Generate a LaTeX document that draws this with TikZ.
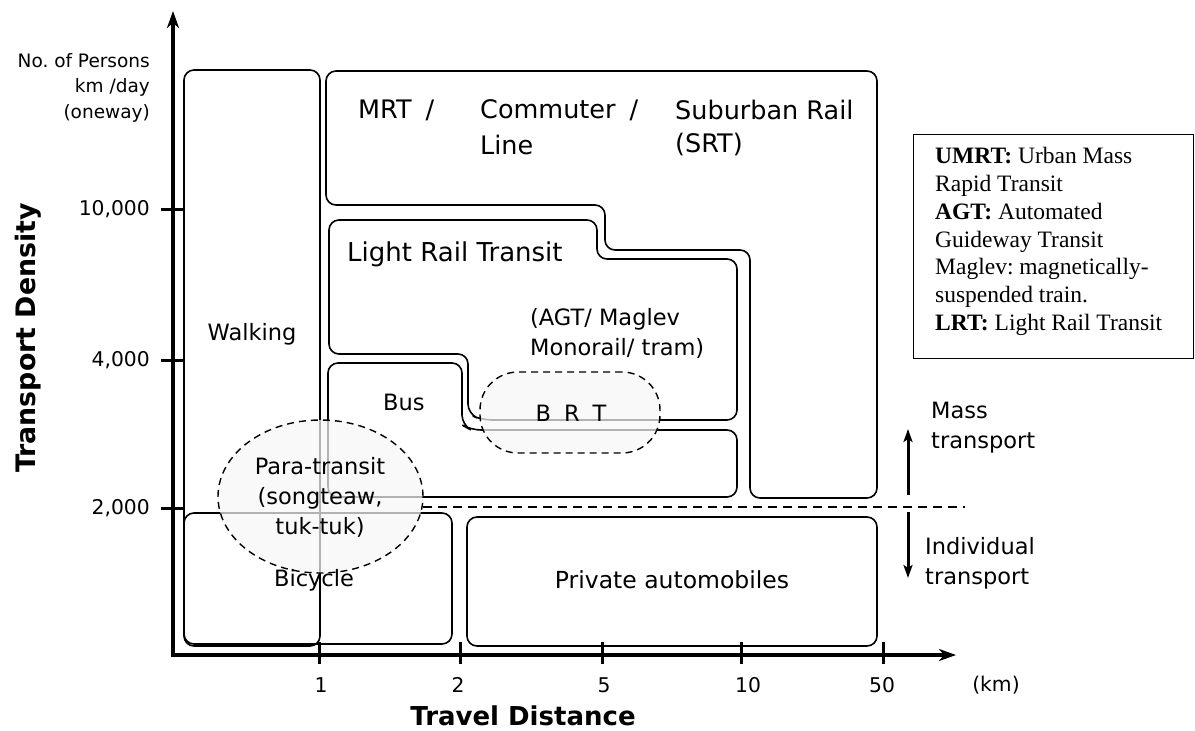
\documentclass[tikz,border=0pt]{standalone}
\usepackage{fontspec}
\setmainfont{DejaVu Sans}
\newfontfamily\tnr{Liberation Serif}
\usetikzlibrary{arrows.meta,shapes.geometric}
\frenchspacing
\tikzset{
  box/.style={draw=black,line width=1.6pt,rounded corners=10pt},
  axisline/.style={line width=3.4pt,-{Stealth[length=17pt,width=12pt,inset=5pt]}},
  tick/.style={line width=3pt},
  dashell/.style={draw=black,dash pattern=on 7pt off 5pt,line width=1.4pt,fill=black!3,fill opacity=0.72,draw opacity=1,inner sep=0pt},
  lbl/.style={font=\fontsize{22.5}{30}\selectfont,inner sep=0pt},
  big/.style={font=\fontsize{25.5}{34}\selectfont,inner sep=0pt,anchor=west},
  axlbl/.style={font=\fontsize{20.3}{25.5}\selectfont,inner sep=0pt},
  ttl/.style={font=\bfseries\fontsize{26}{30}\selectfont,inner sep=0pt},
  dirarrow/.style={line width=3pt,-{Stealth[length=13pt,width=9pt,inset=3pt]}},
}
\begin{document}
\begin{tikzpicture}[x=1pt,y=-1pt]
\useasboundingbox (0,0) rectangle (1195,731);
% ---- regions ----
\draw[box] (184,70) rectangle (320,646);
\draw[box] (326,71) -- (877,71) -- (877,498) -- (750,498) -- (750,250) -- (605,250) -- (605,205) -- (326,205) -- cycle;
\draw[box] (329,220) -- (597,220) -- (597,259) -- (737,259) -- (737,420) -- (482,420) -- (468,414) -- (468,354) -- (329,354) -- cycle;
\draw[box] (328,363) -- (462,363) -- (462,425) -- (471,430) -- (737,430) -- (737,497) -- (328,497) -- cycle;
\draw[box] (184,513) rectangle (452,644);
\draw[box] (467,517) rectangle (877,646);
% ---- overlays ----
\node[dashell,ellipse,minimum width=205pt,minimum height=153pt] (para) at (320.5,496.5) {};
\node[dashell,rectangle,rounded corners=38pt,minimum width=180pt,minimum height=81pt] (brt) at (570,412.5) {};
\coordinate (dl) at (423,507);
\coordinate (dr) at (965,507);
\draw[dash pattern=on 9pt off 6pt,line width=1.5pt] (dl) -- (dr);
% ---- axes ----
\coordinate (O) at (173,655);
\coordinate (Ytop) at (173,11);
\coordinate (Xend) at (956,655);
\draw[axisline] (O) -- (Ytop);
\draw[axisline] ([xshift=-1.7pt]O) -- (Xend);
\foreach \x/\t/\lx in {319/1/321,460/2/458,602/5/604,741/10/748,883/50/882}{
  \coordinate (xt\t) at (\x,642);
  \coordinate (xb\t) at (\x,664);
  \draw[tick] (xt\t) -- (xb\t);
  \node[axlbl] (xl\t) at (\lx,685) {\t};
}
\node[axlbl] (km) at (996,685) {(km)};
\foreach \y/\t/\n in {209/10{,}000/a,360/4{,}000/b,508/2{,}000/c}{
  \coordinate (yl\n) at (161,\y);
  \coordinate (yr\n) at (185,\y);
  \draw[tick] (yl\n) -- (yr\n);
  \node[axlbl,anchor=east] (ylab\n) at (150,\y) {\t};
}
\node[font=\fontsize{18.5}{25.5}\selectfont,align=right,anchor=east,inner sep=0pt] (unit) at (150,87.5) {No. of Persons\\km /day\\(oneway)};
\node[ttl] (xtitle) at (523,716) {Travel Distance};
\node[ttl,rotate=90,font=\bfseries\fontsize{26.8}{30}\selectfont] (ytitle) at (28,338) {Transport Density};
% ---- region labels ----
\node[big] (mrt) at (358,110) {MRT\hspace{14pt}/};
\node[big] (comm) at (480,110) {Commuter\hspace{14pt}/};
\node[big] (line) at (480,145) {Line};
\node[big] (sub) at (675,110) {Suburban Rail};
\node[big] (srt) at (675,145) {(SRT)};
\node[lbl,anchor=west,font=\fontsize{26}{30}\selectfont] (lrt) at (347,254) {Light Rail Transit};
\node[lbl,anchor=west,align=left] (agt) at (530,333) {(AGT/ Maglev\\Monorail/ tram)};
\node[lbl,anchor=west] (bus) at (383,402) {Bus};
\node[lbl] (brtt) at (571,413) {B\hspace{13pt}R\hspace{13pt}T};
\node[lbl] (walk) at (252,334) {Walking};
\node[lbl,align=center] (parat) at (320,497) {Para-transit\\(songteaw,\\tuk-tuk)};
\node[lbl] (bike) at (314,580) {Bicycle};
\node[lbl,font=\fontsize{23.5}{30}\selectfont] (priv) at (672,580) {Private automobiles};
% ---- mass / individual ----
\coordinate (mu0) at (908,495);
\coordinate (mu1) at (908,429);
\coordinate (md0) at (908,512);
\coordinate (md1) at (908,578);
\draw[dirarrow] (mu0) -- (mu1);
\draw[dirarrow] (md0) -- (md1);
\node[lbl,anchor=west,align=left] (mass) at (931,428) {Mass\\transport};
\node[lbl,anchor=west,align=left] (indiv) at (925,563) {Individual\\transport};
% ---- legend ----
\node[draw=black,line width=1.2pt,rectangle,minimum width=280pt,minimum height=224pt,anchor=north west,inner sep=0pt] (legbox) at (913,134) {};
\node[anchor=west,align=left,inner sep=0pt,font=\tnr\fontsize{23.5}{27.8}\selectfont] (legtext) at (935,241.5)
 {\textbf{UMRT:} Urban Mass\\Rapid Transit\\\textbf{AGT:} Automated\\Guideway Transit\\Maglev: magnetically-\\suspended train.\\\textbf{LRT:} Light Rail Transit};
\end{tikzpicture}
\end{document}
